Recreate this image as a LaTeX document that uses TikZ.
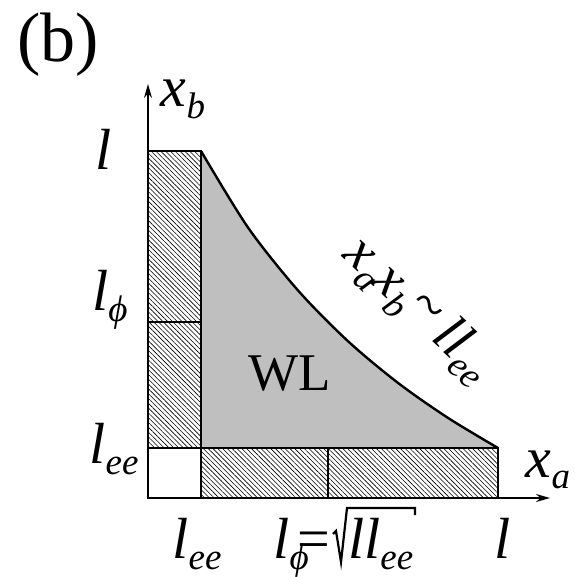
\documentclass[tikz,border=0pt]{standalone}
\usepackage{fontspec}
\setmainfont{Liberation Serif}[ItalicFont={Liberation Serif Italic}]
\usetikzlibrary{patterns.meta,arrows.meta}
\newcommand{\bigf}{\fontsize{58}{60}\selectfont}
\newcommand{\subf}{\fontsize{37}{40}\selectfont}
\newcommand{\vv}[1]{{\itshape #1}}
\newcommand{\sbs}[1]{\raisebox{-0.2em}{\subf\itshape #1}}
\begin{document}
\begin{tikzpicture}[x=1pt,y=-1pt,
  hatch/.style={pattern={Lines[angle=-45,distance=3.4pt,line width=0.6pt]}},
  box/.style={draw=black,line width=2.6pt},
  axis/.style={line width=1.8pt,-{Stealth[length=14pt,width=8pt]}},
  lab/.style={font=\bigf,inner sep=0pt,anchor=base}]
\path[use as bounding box] (0,0) rectangle (578,577);
% coordinates
\coordinate (O) at (148,498);
\coordinate (A) at (201,151);
\coordinate (B) at (201,448);
\coordinate (C) at (498,448);
% gray region
\fill[black!25] (A) -- (B) -- (C) -- plot[smooth] coordinates {(498,448) (448,417.9) (398,382.9) (348,341.2) (298,290.4) (248,227.5) (201,151)} -- cycle;
\draw[line width=2.4pt] plot[smooth] coordinates {(201,151) (248,227.5) (298,290.4) (348,341.2) (398,382.9) (448,417.9) (498,448)};
% hatched strips
\path[hatch] (148,151) rectangle (201,448);
\path[hatch] (201,448) rectangle (498,498);
\draw[box] (148,151) rectangle (201,322);
\draw[box] (148,322) rectangle (201,448);
\draw[box] (201,448) rectangle (328,498);
\draw[box] (328,448) rectangle (498,498);
\draw[line width=1.2pt] (148,448) rectangle (201,498);
% axes
\draw[axis] (O) -- (550,498);
\draw[axis] (O) -- (148,84);
% labels
\node[lab,font=\fontsize{70}{72}\selectfont] (tb) at (58,62) {(b)};
\node[lab] (xb) at (183,107) {\vv{x}\sbs{b}};
\node[lab] (ll) at (104,170) {\vv{l}};
\node[lab] (lphi) at (110,310) {\vv{l}\sbs{ϕ}};
\node[lab] (lee) at (114,463) {\vv{l}\sbs{ee}};
\node[lab] (xa) at (548,477) {\vv{x}\sbs{a}};
\node[lab,font=\fontsize{53}{55}\selectfont] (wl) at (290,390) {WL};
\node[inner sep=0pt,font=\fontsize{55}{57}\selectfont,rotate=-43] (rel) at (418,310) {\vv{x}\sbs{a}\hspace{-3pt}\vv{x}\sbs{b}\raisebox{0.12em}{\textasciitilde}\,\vv{ll}\sbs{ee}};
\node[lab] (blee) at (197,558) {\vv{l}\sbs{ee}};
\node[lab] (blphi) at (302,558) {\vv{l}\sbs{ϕ}\hspace{-11pt}=};
\node[lab,anchor=base west] (rad) at (348,558) {\vv{ll}\sbs{ee}};
\draw[line width=2.2pt,line join=miter] (333,534) -- (336,531) -- (341,562) -- (347,508) -- (415,508) -- (415,515);
\node[lab] (bl) at (503,558) {\vv{l}};
\end{tikzpicture}
\end{document}
